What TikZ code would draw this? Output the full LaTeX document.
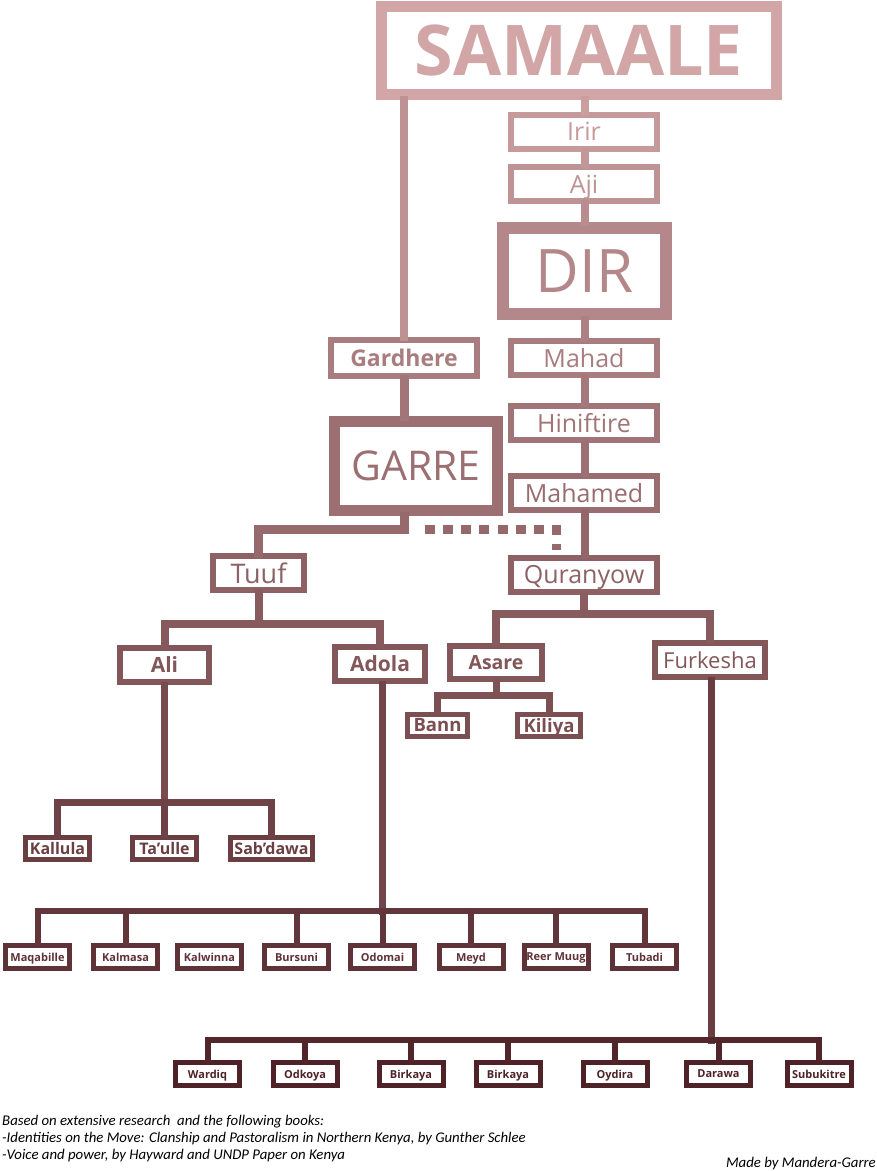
\documentclass[tikz,border=0pt]{standalone}
\usepackage{fontspec}
\setmainfont{Open Sans}
\newfontfamily\notefont{Carlito}
\newcommand\fsz[1]{\fontsize{#1}{#1}\selectfont}

\definecolor{lt}{RGB}{214,170,171}
\definecolor{dk}{RGB}{78,34,38}

\tikzset{
  clan/.style={draw, fill=white, inner sep=0pt, text depth=0pt},
  tone/.style={draw=dk!#1!lt, text=dk!#1!lt},
  link/.style={draw=dk!#1!lt, line cap=rect},
  dotlink/.style={draw=dk!#1!lt, line width=9, dash pattern=on 10pt off 8.14pt},
  midbox/.style={clan, line width=6, minimum height=34},
  subbox/.style={clan, line width=5, minimum width=64, minimum height=22, font=\fsz{16}\bfseries},
  leafbox/.style={clan, line width=5, minimum width=64, minimum height=23, font=\fsz{11}\bfseries}
}

\begin{document}
\begin{tikzpicture}[x=1pt,y=-1pt]
\useasboundingbox (0,0) rectangle (877,1171);

% top
\node[clan, tone=3, line width=11, minimum width=395, minimum height=88, font=\fsz{70}\bfseries] (samaale) at (579,50.5) {SAMAALE};

% Dir line
\foreach \name/\lab/\y/\tn in {irir/Irir/131.5/12, aji/Aji/184/17, mahad/Mahad/358/33, hiniftire/Hiniftire/423/39, mahamed/Mahamed/492.5/45, quranyow/Quranyow/574.5/53}{
  \node[midbox, tone=\tn, minimum width=146, font=\fsz{25}] (\name) at (584,\y) {\lab};
}
\node[clan, tone=25, line width=12, minimum width=163, minimum height=86, font=\fsz{60}] (dir) at (584.5,271) {DIR};
\foreach \a/\b/\tn in {samaale/irir/8, irir/aji/14, aji/dir/21, dir/mahad/30, mahad/hiniftire/36, hiniftire/mahamed/42, mahamed/quranyow/49}{
  \draw[link=\tn, line width=8] (\a.south -| dir) -- (\b.north -| dir);
}

% Garre line
\node[midbox, tone=33, minimum width=146, minimum height=36, font=\fsz{23}\bfseries] (gardhere) at (404,358) {Gardhere};
\node[clan, tone=43, line width=11, minimum width=163, minimum height=89, font=\fsz{41}] (garre) at (416,466) {GARRE};
\draw[link=18, line width=8] (samaale.south -| gardhere) -- (gardhere.north);
\draw[link=38, line width=9] (gardhere.south) -- (gardhere.south |- garre.north);

\node[midbox, tone=53, minimum width=91, font=\fsz{27}] (tuuf) at (258.5,573) {Tuuf};
\coordinate (gbar) at (404,529.5);
\coordinate (qlink) at (556,550);
\draw[link=47, line width=9] (garre.south -| gardhere) -- (gbar) -| (tuuf.north);
\draw[dotlink=48] ([xshift=21]gbar) -| (qlink);

% Tuuf
\node[midbox, tone=61, minimum width=89, font=\fsz{21}\bfseries] (ali) at (164.5,665) {Ali};
\node[midbox, tone=61, minimum width=90, font=\fsz{21}\bfseries] (adola) at (380,664) {Adola};
\coordinate (tbar) at (258.5,624);
\draw[link=57, line width=8] (tuuf.south) -- (tbar);
\draw[link=58, line width=8] (tbar -| ali) -- (tbar -| adola);
\foreach \c in {ali,adola}{
  \draw[link=59, line width=8] (tbar -| \c) -- (\c.north);
}

% Quranyow
\node[midbox, tone=61, minimum width=92, minimum height=33, font=\fsz{19.5}\bfseries] (asare) at (496,662.5) {Asare};
\node[midbox, tone=61, minimum width=110, font=\fsz{22}] (furkesha) at (710,660) {Furkesha};
\coordinate (qbar) at (584,614);
\draw[link=56, line width=8] (quranyow.south) -- (qbar);
\draw[link=57, line width=8] (qbar -| asare) -- (qbar -| furkesha);
\foreach \c in {asare,furkesha}{
  \draw[link=58, line width=8] (qbar -| \c) -- (\c.north);
}

% Asare
\node[subbox, tone=67, minimum width=60, font=\fsz{18.5}\bfseries] (bann) at (437.5,725) {Bann};
\node[subbox, tone=67, minimum width=63, font=\fsz{18.5}\bfseries] (kiliya) at (549,725) {Kiliya};
\coordinate (sbar) at (496,695);
\draw[link=64, line width=7] (asare.south) -- (sbar);
\draw[link=65, line width=7] (sbar -| bann) -- (sbar -| kiliya);
\foreach \c in {bann,kiliya}{
  \draw[link=66, line width=7] (sbar -| \c) -- (\c.north);
}

% Ali
\foreach \name/\lab/\x/\w in {kallula/Kallula/57.5/64, taulle/Ta’ulle/164.5/64, sabdawa/Sab’dawa/271.5/82}{
  \node[subbox, tone=79, minimum width=\w] (\name) at (\x,848.5) {\lab};
}
\coordinate (lbar) at (164.5,802);
\draw[link=69, line width=7] (ali.south) -- (lbar);
\draw[link=75, line width=7] (lbar -| kallula) -- (lbar -| sabdawa);
\foreach \c in {kallula,taulle,sabdawa}{
  \draw[link=77, line width=7] (lbar -| \c) -- (\c.north);
}

% Adola
\foreach \name/\lab/\x in {maqabille/Maqabille/37.5, kalmasa/Kalmasa/125.5, kalwinna/Kalwinna/209.5, bursuni/Bursuni/296.5, odomai/Odomai/382.5, meyd/Meyd/471, reermuug/Reer Muug/556, tubadi/Tubadi/644.5}{
  \node[leafbox, tone=88] (\name) at (\x,957) {\lab};
}
\coordinate (abar) at (382.5,911);
\draw[link=74, line width=7] (adola.south -| abar) -- (abar);
\draw[link=85, line width=6] (abar -| maqabille) -- (abar -| tubadi);
\foreach \c in {maqabille,kalmasa,bursuni,odomai,meyd,reermuug,tubadi}{
  \draw[link=86, line width=6] (abar -| \c) -- (\c.north);
}

% Furkesha
\foreach \name/\lab/\x in {wardiq/Wardiq/207.5, odkoya/Odkoya/305, birkaya/Birkaya/411, birkayab/Birkaya/508, oydira/Oydira/615, darawa/Darawa/718.5, subukitre/Subukitre/819}{
  \node[leafbox, tone=100] (\name) at (\x,1074) {\lab};
}
\coordinate (fbar) at (711,1040);
\draw[link=80, line width=7] (furkesha.south -| fbar) -- (fbar);
\draw[link=97, line width=6] (fbar -| wardiq) -- (fbar -| subukitre);
\foreach \c in {wardiq,odkoya,birkaya,birkayab,oydira,darawa,subukitre}{
  \draw[link=98, line width=6] (fbar -| \c) -- (\c.north);
}

% notes
\node[anchor=north west, align=left, inner sep=0pt, font=\notefont\itshape\fontsize{14.8}{17}\selectfont] (sources) at (2,1115)
  {Based on extensive research\ \ and the following books:\\
   -Identities on the Move: Clanship and Pastoralism in Northern Kenya, by Gunther Schlee\\
   -Voice and power, by Hayward and UNDP Paper on Kenya};
\node[anchor=south east, inner sep=0pt, font=\notefont\itshape\fsz{14.8}] (maker) at (876,1170) {Made by Mandera-Garre};
\end{tikzpicture}
\end{document}
